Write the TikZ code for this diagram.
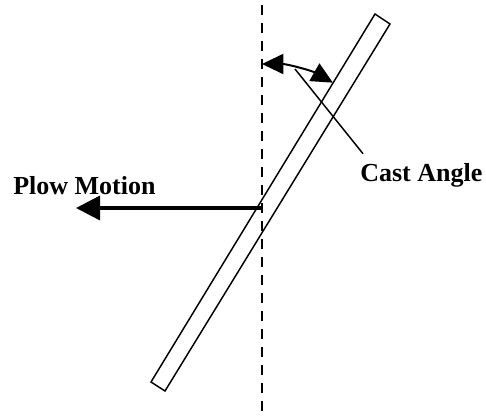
\documentclass[tikz,border=0pt]{standalone}
\usepackage{fontspec}
\setmainfont{Liberation Serif}
\usetikzlibrary{arrows.meta}
\begin{document}
\begin{tikzpicture}[x=0.75pt,y=-0.75pt,
  label/.style={font=\fontsize{19.5}{23}\selectfont\bfseries, inner sep=0pt, anchor=base west},
  plate/.style={draw=black, line width=1.1pt, line join=miter},
  axisline/.style={draw=black, line width=1.6pt, dash pattern=on 7.5pt off 6pt},
  motion/.style={draw=black, line width=2.6pt, -{Triangle[length=18pt,width=18pt]}},
  anglearc/.style={draw=black, line width=1.5pt, {Triangle[length=16pt,width=15pt]}-{Triangle[length=16pt,width=15pt]}},
  leader/.style={draw=black, line width=1.1pt}]
\useasboundingbox (0,0) rectangle (486,419);
% vertical dashed reference line
\coordinate (vtop) at (262,5);
\coordinate (vbot) at (262,419);
\draw[axisline] (vtop) -- (vbot);
% plate
\coordinate (p1) at (375,14);
\coordinate (p2) at (390,24);
\coordinate (p3) at (165,391);
\coordinate (p4) at (151,382);
\draw[plate] (p1) -- (p2) -- (p3) -- (p4) -- cycle;
% labels
\node[label] (plow) at (13,194) {Plow Motion};
\node[label] (cast) at (360,181) {Cast Angle};
% plow motion arrow
\coordinate (mstart) at (261,208);
\coordinate (mend) at (76,208);
\draw[motion] (mstart) -- (mend);
% cast angle arc
\coordinate (pivot) at (262,208);
\draw[anglearc] ([shift={(-90:144)}]pivot) arc[start angle=-90, end angle=-60.5, radius=144];
\coordinate (lstart) at (295,69);
\draw[leader] (lstart) -- ([shift={(3,-9)}]cast.north west);
\end{tikzpicture}
\end{document}
